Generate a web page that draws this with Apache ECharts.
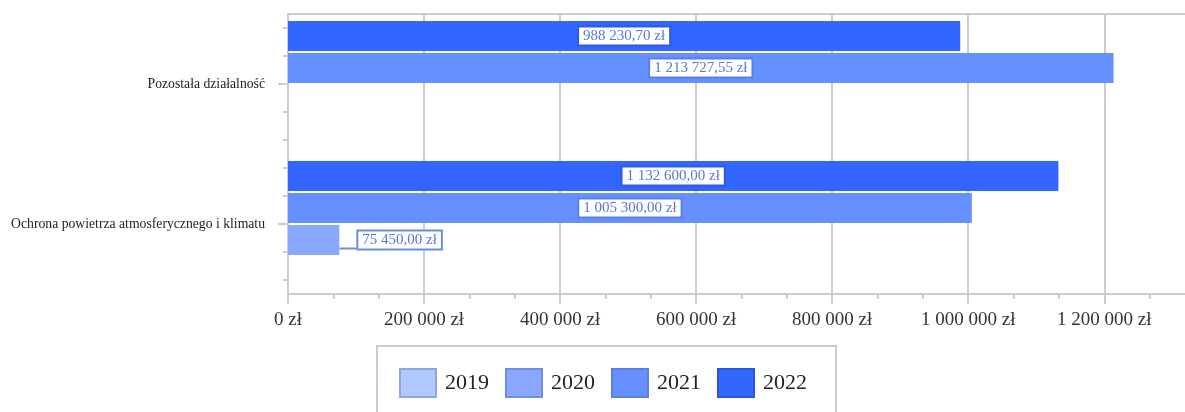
<!DOCTYPE html>
<html><head><meta charset="utf-8">
<script src="https://cdn.jsdelivr.net/npm/echarts@6/dist/echarts.min.js"></script>
<style>html,body{margin:0;padding:0;background:#fff;overflow:hidden}#c{width:1192px;height:412px}</style>
</head><body><div id="c"></div>
<script>
const categories = ['Ochrona powietrza atmosferycznego i klimatu', 'Pozostała działalność'];
const years = ['2019', '2020', '2021', '2022'];
const values2019 = [null, null];
const values2020 = [75450, null];
const values2021 = [1005300, 1213727.55];
const values2022 = [1132600, 988230.70];
const seriesValues = [values2019, values2020, values2021, values2022];
const minorTickSlots = ['', '', '', '', '', '', '', '', '', ''];

const barColors = ['#b0caff', '#8aa8ff', '#6690ff', '#3366ff'];
const legendBorders = ['#8fa6e0', '#6f8fe0', '#5a7fe0', '#2a55e0'];
const labelBorders = ['#8fa6e0', '#6b8de0', '#5a80e6', '#2d5be6'];
const FONT = '"Liberation Serif", "DejaVu Serif", serif';

function fmt(n, dec) {
  const s = n.toFixed(dec);
  const parts = s.split('.');
  const g = parts[0].replace(/\B(?=(\d{3})+(?!\d))/g, ' ');
  return parts[1] ? g + ',' + parts[1] : g;
}

const chart = echarts.init(document.getElementById('c'), null, {renderer: 'canvas'});

// series drawn top-to-bottom within each band: 2022, 2021, 2020, 2019
const order = [3, 2, 1, 0];
const series = order.map(si => ({
  name: years[si],
  type: 'bar',
  yAxisIndex: 0,
  barWidth: 30,
  barGap: '6.67%',
  itemStyle: {color: barColors[si]},
  label: {
    show: true,
    position: 'inside',
    formatter: p => fmt(p.value, 2) + ' zł',
    color: '#5577dd',
    fontFamily: FONT,
    fontSize: 15,
    backgroundColor: '#ffffff',
    borderColor: labelBorders[si],
    borderWidth: 2,
    padding: [1, 4, 1, 4]
  },
  labelLine: {show: true, lineStyle: {color: labelBorders[si], width: 2}},
  data: seriesValues[si].map(v => (v !== null && v < 200000)
    ? {value: v, label: {position: 'right', distance: 19}}
    : v)
}));

chart.setOption({
  animation: false,
  grid: {left: 288, right: 0, top: 14, bottom: 118, show: true, borderColor: '#cccccc', borderWidth: 2},
  xAxis: {
    type: 'value',
    min: 0,
    max: 1329000,
    interval: 200000,
    axisLine: {show: true, lineStyle: {color: '#cccccc', width: 2}},
    axisTick: {show: true, length: 10, lineStyle: {color: '#cccccc', width: 2}},
    minorTick: {show: true, splitNumber: 3, length: 5, lineStyle: {color: '#cccccc', width: 2}},
    splitLine: {show: true, lineStyle: {color: '#cccccc', width: 2}},
    axisLabel: {
      formatter: v => fmt(v, 0) + ' zł',
      color: '#333333',
      fontFamily: FONT,
      fontSize: 19,
      margin: 17,
      showMaxLabel: false
    }
  },
  yAxis: [{
    type: 'category',
    data: categories,
    axisLine: {show: true, lineStyle: {color: '#cccccc', width: 2}},
    axisTick: {show: true, alignWithLabel: true, length: 10, lineStyle: {color: '#cccccc', width: 2}},
    splitLine: {show: false},
    axisLabel: {color: '#222222', fontFamily: FONT, fontSize: 13.7, margin: 23}
  }, {
    type: 'category',
    data: minorTickSlots,
    position: 'left',
    axisLine: {show: false},
    axisTick: {show: true, alignWithLabel: true, length: 5, lineStyle: {color: '#cccccc', width: 2}},
    axisLabel: {show: false},
    splitLine: {show: false}
  }],
  legend: {
    left: 377,
    top: 346,
    orient: 'horizontal',
    padding: [22, 29, 22, 22],
    borderColor: '#cccccc',
    borderWidth: 2,
    itemWidth: 36,
    itemHeight: 28,
    itemGap: 16,
    icon: 'rect',
    textStyle: {color: '#222222', fontFamily: FONT, fontSize: 22, padding: [0, 0, 0, 4]},
    data: years.map((y, i) => ({name: y, itemStyle: {color: barColors[i], borderColor: legendBorders[i], borderWidth: 2}}))
  },
  series: series
});
</script>
</body></html>
